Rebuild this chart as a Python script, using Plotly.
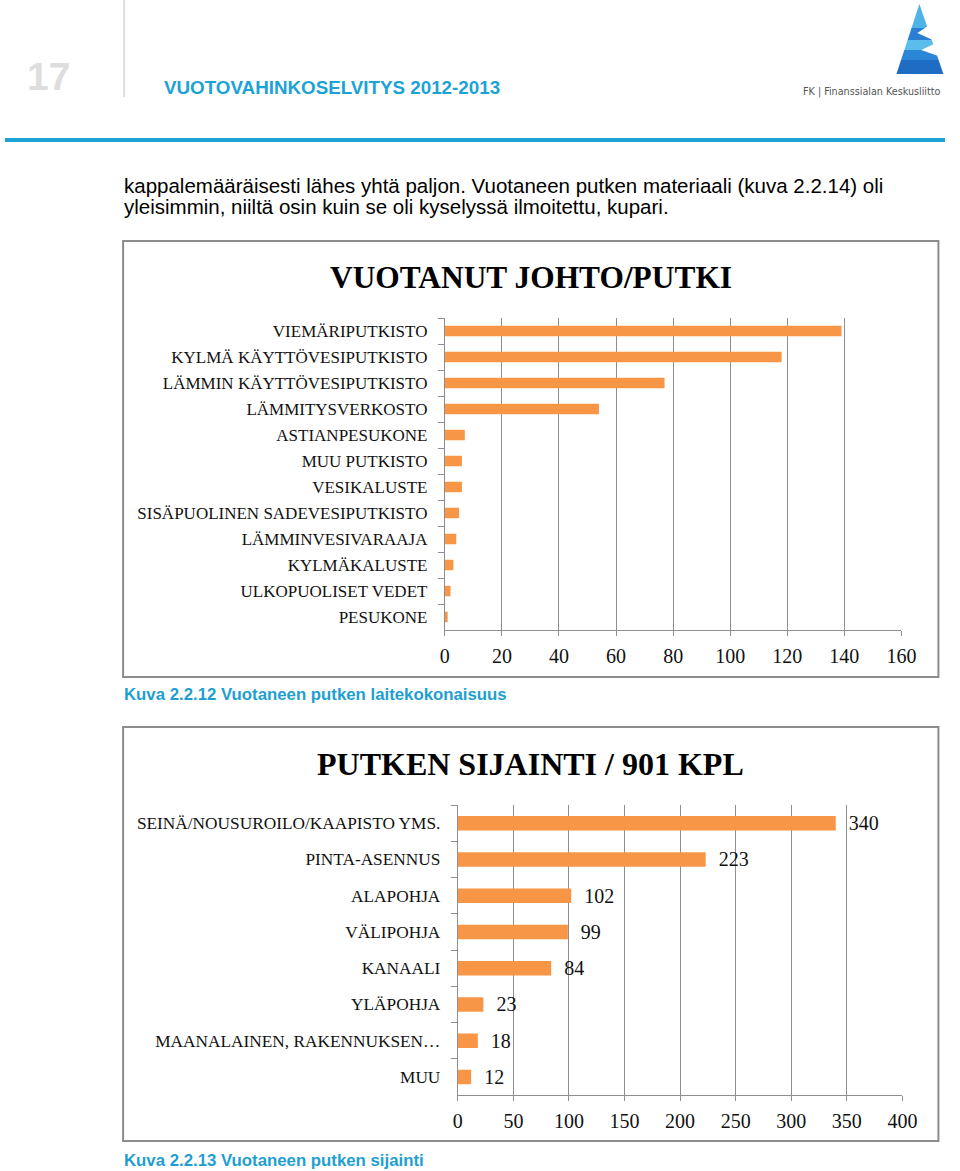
import plotly.graph_objects as go

# ---------------- data ----------------
categories1 = ["VIEMÄRIPUTKISTO", "KYLMÄ KÄYTTÖVESIPUTKISTO", "LÄMMIN KÄYTTÖVESIPUTKISTO",
               "LÄMMITYSVERKOSTO", "ASTIANPESUKONE", "MUU PUTKISTO", "VESIKALUSTE",
               "SISÄPUOLINEN SADEVESIPUTKISTO", "LÄMMINVESIVARAAJA", "KYLMÄKALUSTE",
               "ULKOPUOLISET VEDET", "PESUKONE"]
values1 = [139, 118, 77, 54, 7, 6, 6, 5, 4, 3, 2, 1]
ticks1 = [0, 20, 40, 60, 80, 100, 120, 140, 160]

categories2 = ["SEINÄ/NOUSUROILO/KAAPISTO YMS.", "PINTA-ASENNUS", "ALAPOHJA", "VÄLIPOHJA",
               "KANAALI", "YLÄPOHJA", "MAANALAINEN, RAKENNUKSEN…", "MUU"]
values2 = [340, 223, 102, 99, 84, 23, 18, 12]
ticks2 = [0, 50, 100, 150, 200, 250, 300, 350, 400]

title1 = "VUOTANUT JOHTO/PUTKI"
title2 = "PUTKEN SIJAINTI / 901 KPL"
caption1 = "Kuva 2.2.12 Vuotaneen putken laitekokonaisuus"
caption2 = "Kuva 2.2.13 Vuotaneen putken sijainti"
header = "VUOTOVAHINKOSELVITYS 2012-2013"
page_no = "17"
body1 = "kappalemääräisesti lähes yhtä paljon. Vuotaneen putken materiaali (kuva 2.2.14) oli"
body2 = "yleisimmin, niiltä osin kuin se oli kyselyssä ilmoitettu, kupari."
logo_text = "FK | Finanssialan Keskusliitto"

# ---------------- styling ----------------
W, H = 960, 1171
ORANGE = "#F79646"
GRID = "#8e8e8e"
BLUE = "#1ba3d6"
SERIF = "Liberation Serif, Times New Roman, serif"
SANS = "Liberation Sans, Arial, sans-serif"

# horizontal mapping of page pixels to paper fraction (compensates the capture's x scaling)
X_OFF, X_SPAN = 4.8, 940.8


def px(x):
    return (x - X_OFF) / X_SPAN


def py(y):
    return 1 - y / H


fig = go.Figure()
fig.add_trace(go.Bar(y=categories1, x=values1, orientation="h", marker_color=ORANGE,
                     marker_line_width=0, xaxis="x", yaxis="y", hoverinfo="skip"))
fig.add_trace(go.Bar(y=categories2, x=values2, orientation="h", marker_color=ORANGE,
                     marker_line_width=0, xaxis="x2", yaxis="y2", hoverinfo="skip",
                     text=values2, texttemplate="  %{x}", textposition="outside",
                     constraintext="none",
                     textfont=dict(family=SERIF, size=20, color="#111"), cliponaxis=False))


def xaxis(domain, rng, tv, anchor):
    return dict(domain=domain, range=rng, tickvals=tv, anchor=anchor,
                showgrid=True, gridcolor=GRID, gridwidth=1, zeroline=False,
                showline=True, linecolor=GRID, linewidth=1,
                ticks="outside", ticklen=5, tickcolor=GRID,
                tickfont=dict(family=SERIF, size=20, color="#111"),
                ticklabelstandoff=3, fixedrange=True)


def yaxis(domain, anchor, fs):
    return dict(domain=domain, type="category", autorange="reversed", anchor=anchor,
                showgrid=False, zeroline=False, showline=True, linecolor=GRID, linewidth=1,
                ticks="outside", tickson="boundaries", ticklen=6, tickcolor=GRID,
                tickfont=dict(family=SERIF, size=fs, color="#111"),
                ticklabelstandoff=13, fixedrange=True)


shapes = []
# frames around charts
for (x0, y0, x1, y1) in [(123, 241, 939, 677), (123, 727, 939, 1141)]:
    shapes.append(dict(type="rect", xref="paper", yref="paper", x0=px(x0), x1=px(x1),
                       y0=py(y1), y1=py(y0), line=dict(color="#8c8c8c", width=2)))
# header vertical separator
shapes.append(dict(type="line", xref="paper", yref="paper", x0=px(124), x1=px(124),
                   y0=py(97), y1=py(0), line=dict(color="#d6d6d6", width=1.5)))
# header blue line
shapes.append(dict(type="line", xref="paper", yref="paper", x0=0, x1=1,
                   y0=py(140), y1=py(140), line=dict(color=BLUE, width=4)))

# logo: triangle with blue bands
ax, ay = 920, 4
bl, br, by = 897, 944, 74


def tri_x(y):
    t = (y - ay) / (by - ay)
    return ax + (bl - ax) * t, ax + (br - ax) * t


bands = [(4, 28, "#4fb3e6"), (28, 40, "#2a7fd0"), (40, 50, "#5bbde9"),
         (50, 60, "#2b86d6"), (60, 74, "#1f6cc4")]
for (y0, y1, c) in bands:
    l0, r0 = tri_x(y0)
    l1, r1 = tri_x(y1)
    path = (f"M {px(l0)},{py(y0)} L {px(r0)},{py(y0)} L {px(r1)},{py(y1)} "
            f"L {px(l1)},{py(y1)} Z")
    shapes.append(dict(type="path", xref="paper", yref="paper", path=path,
                       fillcolor=c, line=dict(width=0)))
# white notches forming the E shape
for (y0, ym, y1, depth) in [(26, 33, 40, 12), (44, 50, 56, 14)]:
    _, r0 = tri_x(y0)
    _, r1 = tri_x(y1)
    _, rm = tri_x(ym)
    path = (f"M {px(r0 + 1)},{py(y0)} L {px(rm - depth)},{py(ym)} L {px(r1 + 1)},{py(y1)} "
            f"L 1,{py(y1)} L 1,{py(y0)} Z")
    shapes.append(dict(type="path", xref="paper", yref="paper", path=path,
                       fillcolor="white", line=dict(width=0)))

annotations = [
    dict(text=page_no, x=px(48), y=py(77), xref="paper", yref="paper", showarrow=False,
         xanchor="center", yanchor="middle",
         font=dict(family=SANS, size=39, color="#dedede", weight="bold")),
    dict(text=f"<b>{header}</b>", x=px(162), y=py(87), xref="paper", yref="paper",
         showarrow=False, xanchor="left", yanchor="middle",
         font=dict(family=SANS, size=18.8, color=BLUE)),
    dict(text=logo_text, x=px(944), y=py(92), xref="paper", yref="paper", showarrow=False,
         xanchor="right", yanchor="middle",
         font=dict(family="DejaVu Sans Condensed, Liberation Sans Narrow, sans-serif",
                   size=10.7, color="#555")),
    dict(text=body1, x=px(122), y=py(185), xref="paper", yref="paper", showarrow=False,
         xanchor="left", yanchor="middle", font=dict(family=SANS, size=20.5, color="#000")),
    dict(text=body2, x=px(122), y=py(206), xref="paper", yref="paper", showarrow=False,
         xanchor="left", yanchor="middle", font=dict(family=SANS, size=20.5, color="#000")),
    dict(text=f"<b>{title1}</b>", x=px(531), y=py(277), xref="paper", yref="paper",
         showarrow=False, xanchor="center", yanchor="middle",
         font=dict(family=SERIF, size=31.4, color="#000")),
    dict(text=f"<b>{title2}</b>", x=px(531), y=py(764), xref="paper", yref="paper",
         showarrow=False, xanchor="center", yanchor="middle",
         font=dict(family=SERIF, size=32, color="#000")),
    dict(text=f"<b>{caption1}</b>", x=px(122), y=py(694), xref="paper", yref="paper",
         showarrow=False, xanchor="left", yanchor="middle",
         font=dict(family=SANS, size=16.8, color="#1e9fd0")),
    dict(text=f"<b>{caption2}</b>", x=px(122), y=py(1160), xref="paper", yref="paper",
         showarrow=False, xanchor="left", yanchor="middle",
         font=dict(family=SANS, size=16.8, color="#1e9fd0")),
]

fig.update_layout(
    width=W, height=H, margin=dict(l=0, r=0, t=0, b=0),
    paper_bgcolor="white", plot_bgcolor="white", showlegend=False,
    bargap=0.6,
    xaxis=xaxis([px(445), px(902)], [0, 160], ticks1, "y"),
    yaxis=yaxis([py(630), py(318)], "x", 17),
    xaxis2=xaxis([px(458), px(903)], [0, 400], ticks2, "y2"),
    yaxis2=yaxis([py(1095), py(805)], "x2", 17.3),
    shapes=shapes, annotations=annotations,
)

fig.write_html("out.html")
